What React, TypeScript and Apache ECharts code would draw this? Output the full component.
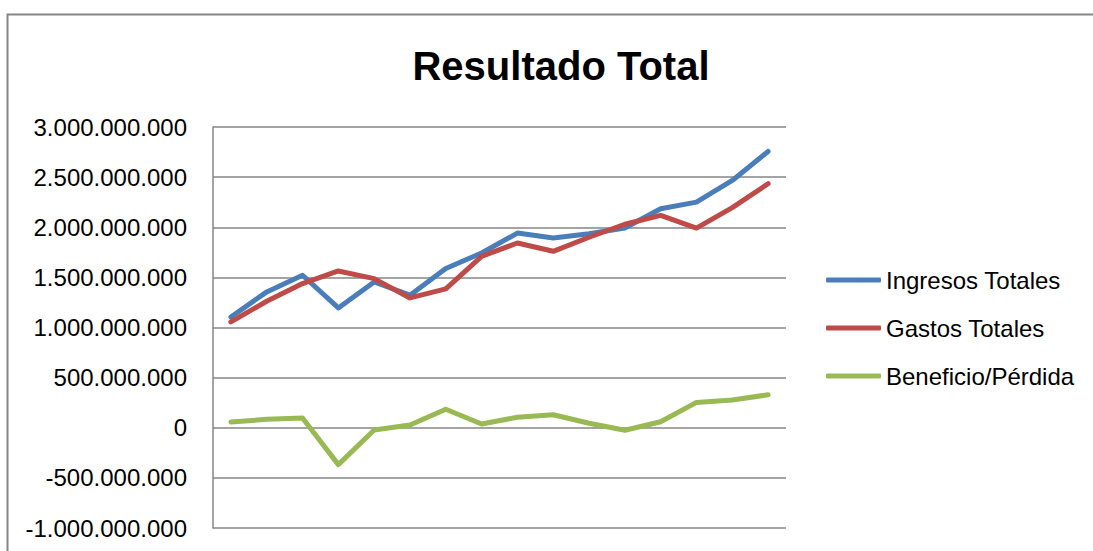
import React, { useEffect, useRef } from "react";
import * as echarts from "echarts";

const categories = ["1", "2", "3", "4", "5", "6", "7", "8", "9", "10", "11", "12", "13", "14", "15", "16"];
const ingresosTotales = [1105e6, 1355e6, 1521e6, 1195e6, 1454e6, 1322e6, 1588e6, 1743e6, 1942e6, 1892e6, 1936e6, 1992e6, 2185e6, 2251e6, 2467e6, 2756e6];
const gastosTotales = [1056e6, 1262e6, 1438e6, 1564e6, 1488e6, 1295e6, 1385e6, 1710e6, 1843e6, 1760e6, 1900e6, 2030e6, 2118e6, 1992e6, 2195e6, 2434e6];
const beneficioPerdida = [57e6, 84e6, 97e6, -368e6, -23e6, 27e6, 185e6, 38e6, 105e6, 130e6, 45e6, -25e6, 60e6, 253e6, 276e6, 329e6];
const seriesNames = ["Ingresos Totales", "Gastos Totales", "Beneficio/Pérdida"];
const seriesColors = ["#4A7EBB", "#BE4B48", "#98B954"];

function fmt(v: number): string {
  const neg = v < 0;
  const s = Math.abs(Math.round(v)).toString();
  const out = s.replace(/\B(?=(\d{3})+(?!\d))/g, ".");
  return (neg ? "-" : "") + out;
}

export default function App() {
  const ref = useRef<HTMLDivElement>(null);
  useEffect(() => {
    if (!ref.current) return;
    const chart = echarts.init(ref.current, undefined, { renderer: "svg" });
    const font = "'Liberation Sans', Arial, sans-serif";
    const data = [ingresosTotales, gastosTotales, beneficioPerdida];
    chart.setOption({
      animation: false,
      backgroundColor: "#ffffff",
      title: {
        text: "Resultado Total",
        left: 556,
        textAlign: "center",
        top: 41,
        padding: 5,
        textStyle: { fontFamily: font, fontSize: 40, fontWeight: "bold", color: "#000000" },
      },
      graphic: [
        {
          type: "rect",
          shape: { x: 7.5, y: 14.5, width: 1200, height: 700 },
          style: { fill: "none", stroke: "#868686", lineWidth: 2 },
          silent: true,
        },
      ],
      legend: {
        orient: "vertical",
        left: 826,
        top: 268,
        padding: 0,
        itemWidth: 55,
        itemHeight: 5,
        itemGap: 24,
        icon: "roundRect",
        textStyle: { fontFamily: font, fontSize: 24, color: "#000000", lineHeight: 24 },
        data: seriesNames,
      },
      grid: { left: 213, right: 307, top: 127, bottom: 23, containLabel: false },
      xAxis: {
        type: "category",
        data: categories,
        boundaryGap: true,
        axisLine: { show: false },
        axisTick: { show: false },
        axisLabel: { show: false },
        splitLine: { show: false },
      },
      yAxis: {
        type: "value",
        min: -1000000000,
        max: 3000000000,
        interval: 500000000,
        axisLine: { show: true, lineStyle: { color: "#868686", width: 1.5 } },
        axisTick: { show: false },
        splitLine: { show: true, lineStyle: { color: "#868686", width: 1.5 } },
        axisLabel: {
          formatter: (v: number) => fmt(v),
          fontFamily: font,
          fontSize: 24,
          color: "#000000",
          margin: 26,
        },
      },
      series: seriesNames.map((name, i) => ({
        name,
        type: "line",
        data: data[i],
        symbol: "none",
        color: seriesColors[i],
        lineStyle: { width: 5, color: seriesColors[i], cap: "round", join: "round" },
      })),
    });
    return () => chart.dispose();
  }, []);
  return <div ref={ref} style={{ position: "fixed", left: 0, top: 0, width: 1093, height: 551 }} />;
}
